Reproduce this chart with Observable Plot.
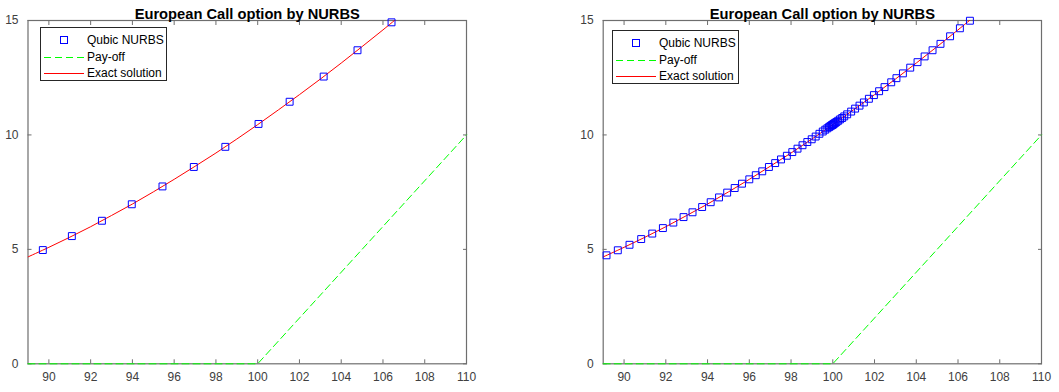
<!DOCTYPE html>
<html>
<head>
<meta charset="utf-8">
<script src="https://cdn.jsdelivr.net/npm/d3@7"></script>
<script src="https://cdn.jsdelivr.net/npm/@observablehq/plot@0.6"></script>
<style>
  html, body { margin: 0; padding: 0; background: white; }
  #wrap { position: relative; width: 1059px; height: 392px; overflow: hidden; font-family: "Liberation Sans", Arial, sans-serif; }
  .panel { position: absolute; top: 0; }
  .legend { position: absolute; border: 1px solid #262626; background: white; box-sizing: border-box; font-size: 12px; color: #000; }
  .legend .row { position: absolute; left: 0; height: 16px; display: flex; align-items: center; }
  .legend svg { display: block; }
</style>
</head>
<body>
<div id="wrap"></div>
<script>
// ---- data ----
const titleText = "European Call option by NURBS";
const legendLabels = ["Qubic NURBS", "Pay-off", "Exact solution"];
const xTicks = [90, 92, 94, 96, 98, 100, 102, 104, 106, 108, 110];
const yTicks = [0, 5, 10, 15];

// exact (Black-Scholes) curve, read at integer spot prices
const exactS = [89, 90, 91, 92, 93, 94, 95, 96, 97, 98, 99, 100, 101, 102, 103, 104, 105, 106, 107];
const exactC = [4.67, 5.09, 5.53, 5.99, 6.48, 6.98, 7.51, 8.06, 8.63, 9.21, 9.82, 10.45, 11.10, 11.76, 12.44, 13.14, 13.86, 14.59, 15.34];

// pay-off
const payoffS = [89, 100, 110];
const payoffV = [0, 0, 10];

// left panel: cubic NURBS points
const leftS = [89.71, 91.10, 92.54, 93.97, 95.44, 96.94, 98.45, 100.04, 101.53, 103.16, 104.78, 106.41];
const leftV = [4.97, 5.58, 6.25, 6.97, 7.75, 8.60, 9.48, 10.48, 11.45, 12.55, 13.70, 14.92];

// right panel: refined cubic NURBS points
const rightS = [89.16, 89.70, 90.26, 90.82, 91.35, 91.86, 92.36, 92.85, 93.28, 93.74, 94.15, 94.55, 94.94, 95.30, 95.65,
  96.00, 96.31, 96.62, 96.94, 97.24, 97.52, 97.80, 98.06, 98.31, 98.55, 98.78, 98.99, 99.18, 99.36, 99.52, 99.64, 99.74,
  99.82, 99.88, 99.93, 99.97, 100.00, 100.03, 100.07, 100.12, 100.18, 100.26, 100.35, 100.45, 100.55, 100.69, 100.88,
  101.07, 101.28, 101.49, 101.73, 101.97, 102.22, 102.48, 102.80, 103.05, 103.36, 103.71, 104.06, 104.40, 104.78,
  105.16, 105.62, 106.09, 106.57];
const rightV = [4.74, 4.96, 5.20, 5.45, 5.69, 5.93, 6.17, 6.41, 6.62, 6.85, 7.06, 7.27, 7.48, 7.68, 7.87,
  8.06, 8.24, 8.41, 8.60, 8.77, 8.93, 9.09, 9.25, 9.40, 9.55, 9.69, 9.81, 9.93, 10.05, 10.15, 10.23, 10.29,
  10.34, 10.38, 10.41, 10.43, 10.45, 10.47, 10.50, 10.53, 10.57, 10.62, 10.68, 10.74, 10.81, 10.90, 11.02,
  11.15, 11.28, 11.42, 11.58, 11.74, 11.91, 12.09, 12.30, 12.48, 12.69, 12.94, 13.18, 13.43, 13.70,
  13.98, 14.31, 14.66, 14.99];

// ---- style ----
const C_DOT = "#0000ff", C_PAY = "#00ff00", C_EXACT = "#ff0000", C_FRAME = "#6e6e6e";
const FONT = '"Liberation Sans", Arial, sans-serif';

function panel(ptsS, ptsV, opts) {
  const exact = exactS.map((s, i) => ({s, v: exactC[i]}));
  const pay = payoffS.map((s, i) => ({s, v: payoffV[i]}));
  const pts = ptsS.map((s, i) => ({s, v: ptsV[i]}));
  return Plot.plot({
    width: opts.width, height: 392,
    marginLeft: opts.ml, marginRight: opts.mr, marginTop: 20, marginBottom: 28.7,
    style: {fontFamily: FONT, fontSize: "12px", color: "#404040", background: "white", overflow: "visible"},
    x: {domain: [89, 110], label: null},
    y: {domain: [0, 15], label: null},
    marks: [
      Plot.frame({stroke: C_FRAME, strokeWidth: 1.2}),
      Plot.axisX({anchor: "bottom", ticks: xTicks, tickSize: -4, tickPadding: 13, label: null, stroke: C_FRAME}),
      Plot.axisX({anchor: "top", ticks: xTicks, tickSize: -4, tickFormat: () => "", label: null, stroke: C_FRAME}),
      Plot.axisY({anchor: "left", ticks: yTicks, tickSize: -4, tickPadding: 13.5, label: null, stroke: C_FRAME}),
      Plot.axisY({anchor: "right", ticks: yTicks, tickSize: -4, tickFormat: () => "", label: null, stroke: C_FRAME}),
      Plot.line(pay, {x: "s", y: "v", stroke: C_PAY, strokeWidth: 1, strokeDasharray: "7,4"}),
      Plot.line(exact, {x: "s", y: "v", stroke: C_EXACT, strokeWidth: 1, curve: "catmull-rom", clip: true}),
      Plot.dot(pts, {x: "s", y: "v", symbol: "square", r: 3.9, stroke: C_DOT, fill: "none", strokeWidth: 1}),
      Plot.text([titleText], {frameAnchor: "top", dy: -12, fontWeight: "bold", fontSize: 14.7, fill: "black"})
    ]
  });
}

function legend(left, top) {
  const div = document.createElement("div");
  div.className = "legend";
  div.style.left = left + "px"; div.style.top = top + "px";
  div.style.width = "127px"; div.style.height = "54px";
  const ys = [4, 20.5, 37];
  legendLabels.forEach((lab, i) => {
    const row = document.createElement("div");
    row.className = "row";
    row.style.top = ys[i] + "px";
    const s = d3.create("svg").attr("width", 46).attr("height", 16);
    if (i === 0) s.append("rect").attr("x", 19.5).attr("y", 4.5).attr("width", 7).attr("height", 7).attr("fill", "none").attr("stroke", C_DOT);
    if (i === 1) s.append("line").attr("x1", 3).attr("x2", 43).attr("y1", 8.5).attr("y2", 8.5).attr("stroke", C_PAY).attr("stroke-dasharray", "7,4");
    if (i === 2) s.append("line").attr("x1", 3).attr("x2", 43).attr("y1", 8.5).attr("y2", 8.5).attr("stroke", C_EXACT);
    row.appendChild(s.node());
    const t = document.createElement("span");
    t.textContent = lab;
    row.appendChild(t);
    div.appendChild(row);
  });
  return div;
}

const wrap = document.getElementById("wrap");
const p1 = panel(leftS, leftV, {width: 530, ml: 27.5, mr: 64});
p1.classList.add("panel"); p1.style.left = "0px";
const p2 = panel(rightS, rightV, {width: 529, ml: 72.7, mr: 18});
p2.classList.add("panel"); p2.style.left = "530px";
wrap.appendChild(p1);
wrap.appendChild(p2);
wrap.appendChild(legend(40, 27));
wrap.appendChild(legend(612, 30));
</script>
</body>
</html>
